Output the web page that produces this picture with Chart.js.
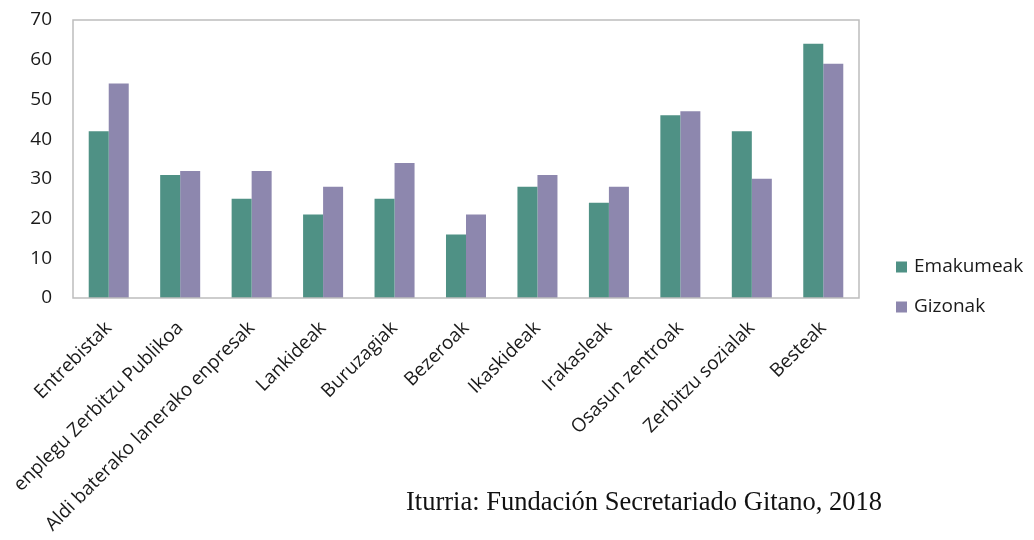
<!DOCTYPE html>
<html>
<head>
<meta charset="utf-8">
<script src="https://cdn.jsdelivr.net/npm/chart.js@4.4.1/dist/chart.umd.min.js"></script>
<style>
  html, body { margin: 0; padding: 0; background: #fff; }
  #wrap { position: relative; width: 1034px; height: 540px; }
  #source {
    position: absolute; left: 406px; top: 486px;
    font-family: 'Liberation Serif', 'DejaVu Serif', serif;
    font-size: 26.5px; color: #111; white-space: nowrap;
  }
</style>
</head>
<body>
<div id="wrap">
  <canvas id="chart" width="1034" height="540"></canvas>
  <div id="source">Iturria: Fundación Secretariado Gitano, 2018</div>
</div>
<script>
// ─── DATA ────────────────────────────────────────────────
const categories = [
  'Entrebistak', 'enplegu Zerbitzu Publikoa', 'Aldi baterako lanerako enpresak',
  'Lankideak', 'Buruzagiak', 'Bezeroak', 'Ikaskideak', 'Irakasleak',
  'Osasun zentroak', 'Zerbitzu sozialak', 'Besteak'
];
const emakumeak = [42, 31, 25, 21, 25, 16, 28, 24, 46, 42, 64];
const gizonak   = [54, 32, 32, 28, 34, 21, 31, 28, 47, 30, 59];
const yTicks    = [0, 10, 20, 30, 40, 50, 60, 70];

const GREEN  = '#4f9185';
const PURPLE = '#8d87ae';
const FONT   = "'Open Sans', 'Noto Sans', sans-serif";

// ─── PLUGINS ─────────────────────────────────────────────
const frame = {
  id: 'frame',
  afterDatasetsDraw(chart) {
    const { ctx, chartArea: a } = chart;
    ctx.save();
    ctx.strokeStyle = '#bdbdbd';
    ctx.lineWidth = 1.5;
    ctx.strokeRect(a.left, a.top, a.right - a.left, a.bottom - a.top);
    ctx.restore();
  }
};

const sideLegend = {
  id: 'sideLegend',
  afterDraw(chart) {
    const { ctx } = chart;
    ctx.save();
    ctx.font = '19px ' + FONT;
    ctx.textBaseline = 'middle';
    chart.data.datasets.forEach((ds, i) => {
      const y = 267 + i * 40;
      ctx.fillStyle = ds.backgroundColor;
      ctx.fillRect(896, y - 5.5, 11, 11);
      ctx.fillStyle = '#1a1a1a';
      ctx.fillText(ds.label, 914, y);
    });
    ctx.restore();
  }
};

// ─── CHART ───────────────────────────────────────────────
new Chart(document.getElementById('chart'), {
  type: 'bar',
  data: {
    labels: categories,
    datasets: [
      { label: 'Emakumeak', data: emakumeak, backgroundColor: GREEN },
      { label: 'Gizonak',   data: gizonak,   backgroundColor: PURPLE }
    ]
  },
  options: {
    responsive: false,
    animation: false,
    layout: { padding: { top: 20, right: 175, left: 0, bottom: 0 } },
    datasets: { bar: { categoryPercentage: 0.56, barPercentage: 1 } },
    plugins: { legend: { display: false }, tooltip: { enabled: false } },
    scales: {
      x: {
        grid: { display: false, drawTicks: true, tickLength: 8 },
        border: { display: false },
        afterFit: s => { s.height = 242; },
        ticks: {
          autoSkip: false, minRotation: 45, maxRotation: 45,
          color: '#1a1a1a', padding: 11,
          font: { family: FONT, size: 19 }
        }
      },
      y: {
        min: 0, max: 70,
        afterFit: s => { s.width = 73; },
        afterBuildTicks: s => { s.ticks = yTicks.map(v => ({ value: v })); },
        grid: { display: false, drawTicks: true, tickLength: 18 },
        border: { display: false },
        ticks: {
          color: '#1a1a1a', padding: 3,
          font: { family: FONT, size: 19 }
        }
      }
    }
  },
  plugins: [frame, sideLegend]
});
</script>
</body>
</html>
